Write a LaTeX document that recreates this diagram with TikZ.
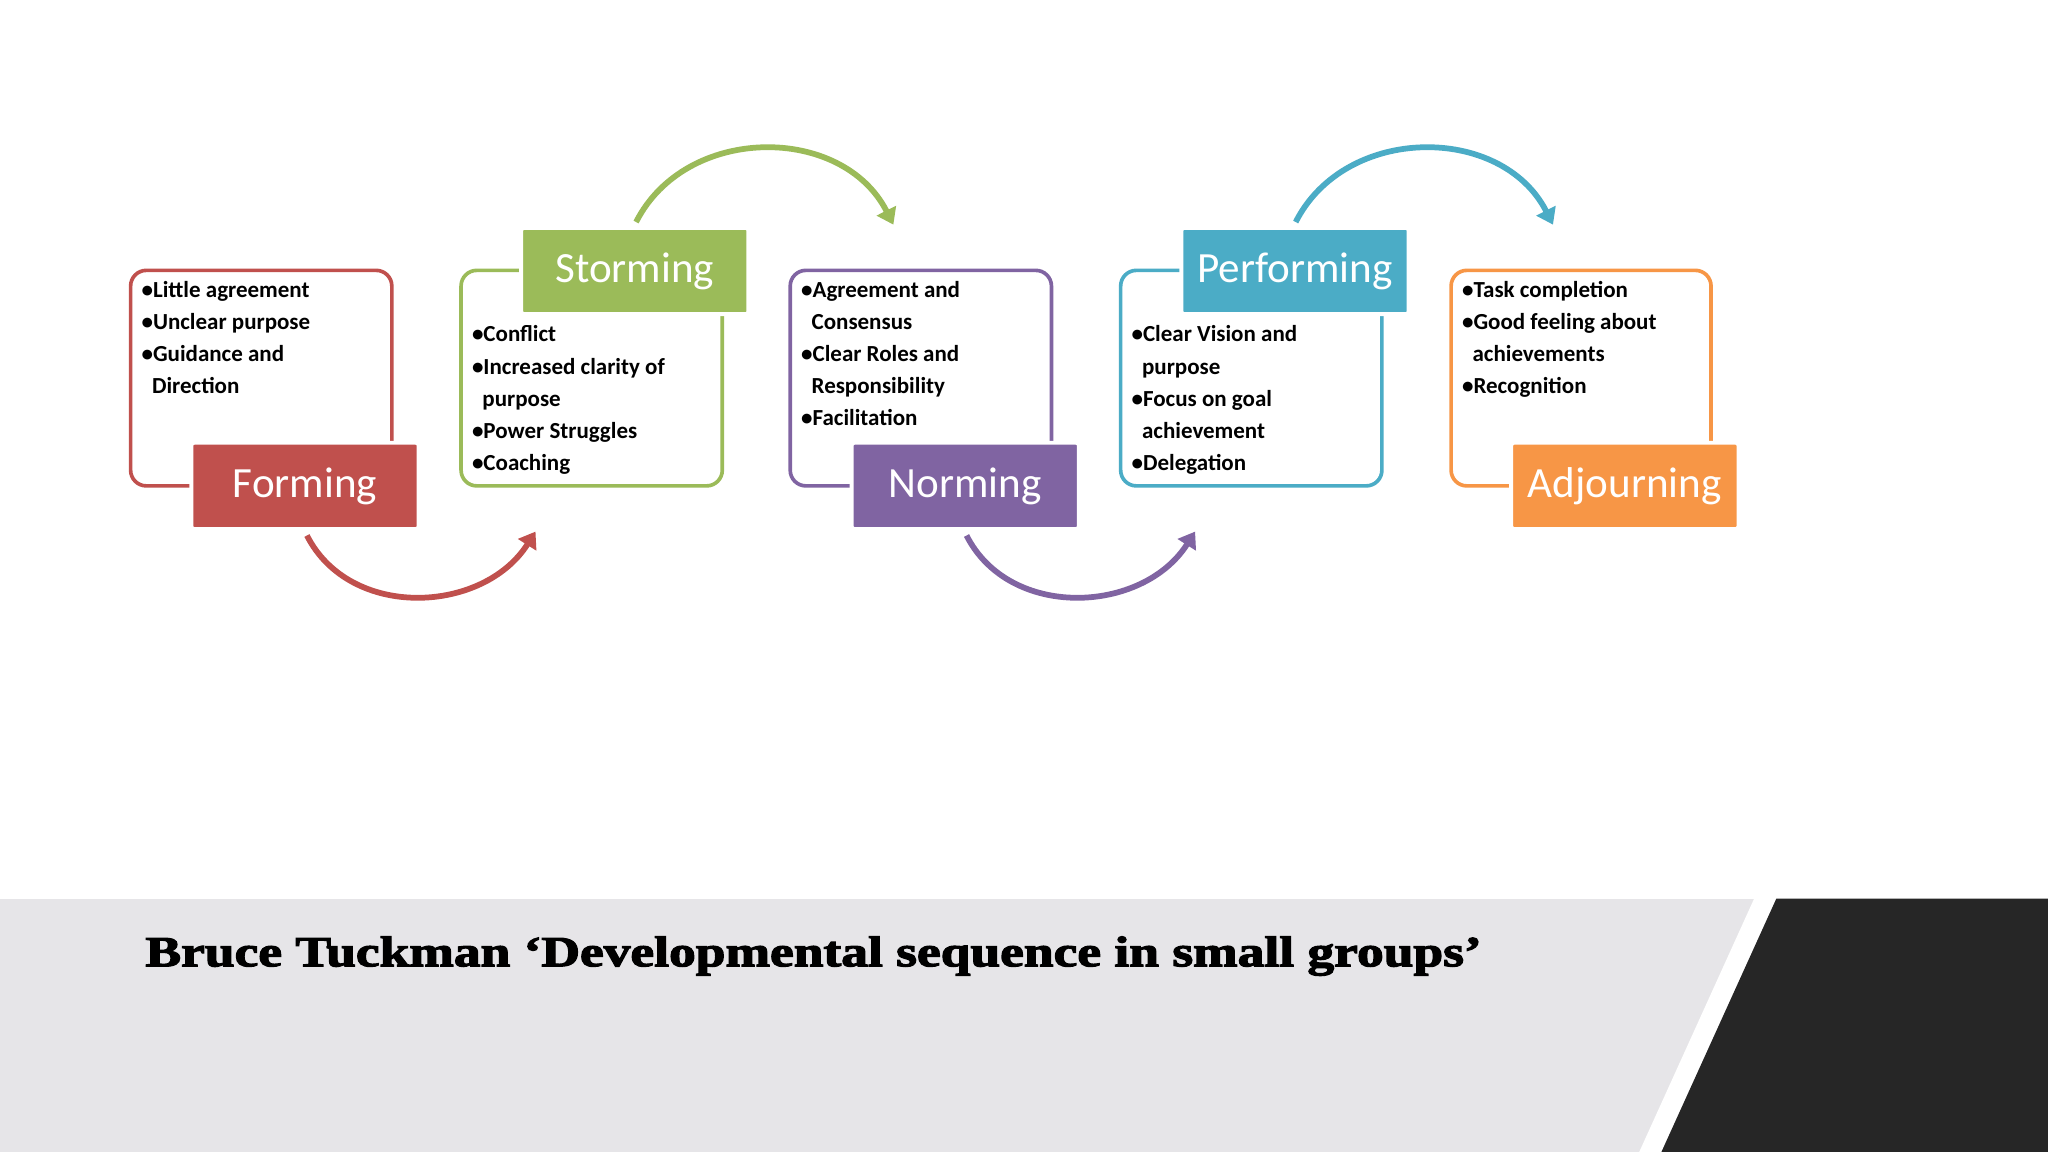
\documentclass[tikz,border=0pt]{standalone}
\usepackage{fontspec}
\setmainfont{Carlito}
\newfontfamily\titlefont[FakeBold=2.5]{Liberation Serif}
\usetikzlibrary{arrows.meta}
\definecolor{cred}{HTML}{C0504D}
\definecolor{cgreen}{HTML}{9BBB59}
\definecolor{cpurple}{HTML}{8064A2}
\definecolor{cblue}{HTML}{4BACC6}
\definecolor{corange}{HTML}{F79646}
\definecolor{band}{HTML}{E6E5E8}
\definecolor{dark}{HTML}{262626}
\tikzset{
 x=0.5pt,y=-0.5pt,
 outl/.style={draw=#1,line width=1.4pt,rounded corners=6pt,fill=white},
 lab/.style={fill=#1,draw=white,line width=1.5pt,rounded corners=1pt,text=white,font=\fontsize{16.5}{18}\selectfont,minimum width=87pt,minimum height=33pt,inner sep=0pt},
 items/.style={anchor=north west,align=left,inner sep=0pt,font=\fontsize{8.8}{10.5}\bfseries\selectfont},
 arr/.style={draw=#1,line width=2.2pt,-{Triangle[length=6pt,width=8pt]}},
}
\newcommand{\itm}[1]{\textbullet#1\\[1.8pt]}
\newcommand{\cnt}[1]{\hspace*{4pt}#1\\[1.8pt]}
\begin{document}
\begin{tikzpicture}
\useasboundingbox (0,0) rectangle (1568,882);
\fill[white] (0,0) rectangle (1568,882);
% bottom band
\fill[band] (0,688) rectangle (1568,882);
\fill[white] (1255,882) -- (1343,688) -- (1360,688) -- (1272,882) -- cycle;
\fill[dark] (1272,882) -- (1360,688) -- (1568,688) -- (1568,882) -- cycle;
\node[anchor=west,inner sep=0pt,font=\titlefont\fontsize{16.5}{20}\bfseries\selectfont] (title) at (111,732) {\scalebox{1.24}[1]{Bruce Tuckman ‘Developmental sequence in small groups’}};
% boxes
\draw[outl=cred] (100,207) rectangle (300,372);
\draw[outl=cgreen] (353,207) rectangle (553,372);
\draw[outl=cpurple] (605,207) rectangle (805,372);
\draw[outl=cblue] (858,207) rectangle (1058,372);
\draw[outl=corange] (1111,207) rectangle (1310,372);
\node[lab=cred] (forming) at (233.5,372) {Forming};
\node[lab=cgreen] (storming) at (486,207.5) {Storming};
\node[lab=cpurple] (norming) at (739,372) {Norming};
\node[lab=cblue] (performing) at (991.5,207.5) {Performing};
\node[lab=corange] (adjourning) at (1244,372) {Adjourning};
% texts
\node[items] (t1) at (108,215) {\itm{Little agreement}\itm{Unclear purpose}\itm{Guidance and}\cnt{Direction}};
\node[items] (t2) at (361,249) {\itm{Conflict}\itm{Increased clarity of}\cnt{purpose}\itm{Power Struggles}\itm{Coaching}};
\node[items] (t3) at (613,215) {\itm{Agreement and}\cnt{Consensus}\itm{Clear Roles and}\cnt{Responsibility}\itm{Facilitation}};
\node[items] (t4) at (866,249) {\itm{Clear Vision and}\cnt{purpose}\itm{Focus on goal}\cnt{achievement}\itm{Delegation}};
\node[items] (t5) at (1119,215) {\itm{Task completion}\itm{Good feeling about}\cnt{achievements}\itm{Recognition}};
% arrows
\coordinate (a1s) at (235,410); \coordinate (a1e) at (410,407);
\draw[arr=cred] (a1s) .. controls (268,475) and (370,470) .. (a1e);
\coordinate (a2s) at (487,170); \coordinate (a2e) at (684,172);
\draw[arr=cgreen] (a2s) .. controls (525,95) and (645,95) .. (a2e);
\coordinate (a3s) at (740,410); \coordinate (a3e) at (915,407);
\draw[arr=cpurple] (a3s) .. controls (773,475) and (875,470) .. (a3e);
\coordinate (a4s) at (992,170); \coordinate (a4e) at (1189,172);
\draw[arr=cblue] (a4s) .. controls (1030,95) and (1150,95) .. (a4e);
\end{tikzpicture}
\end{document}
